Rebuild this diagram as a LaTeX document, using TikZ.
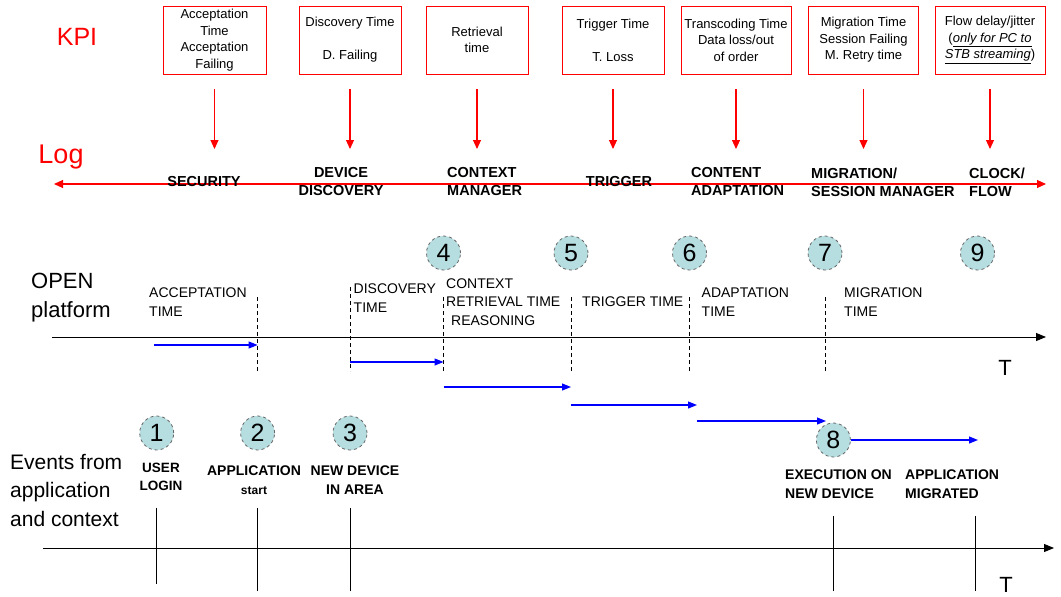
\documentclass[tikz,border=0pt]{standalone}
\usepackage{fontspec}
\setmainfont{Liberation Sans}
\usetikzlibrary{arrows.meta}
\definecolor{numfill}{RGB}{182,221,224}

\begin{document}
\begin{tikzpicture}[x=1pt,y=-1pt,
    kpi/.style={draw=red, line width=0.9pt, minimum height=68pt, inner sep=1pt, align=center, font=\fontsize{13}{16.5}\selectfont},
    bigtxt/.style={align=left, anchor=west, inner sep=0pt},
    logtxt/.style={font=\fontsize{14.5}{18}\selectfont\bfseries, align=left, anchor=west, inner sep=0pt},
    opentxt/.style={font=\fontsize{14}{18.5}\selectfont, align=left, anchor=west, inner sep=0pt},
    evtxt/.style={font=\fontsize{14}{18.5}\selectfont\bfseries, align=center, inner sep=0pt},
    num/.style={circle, draw=black!60, dashed, line width=0.8pt, fill=numfill, minimum size=34pt, inner sep=0pt, font=\fontsize{25}{25}\selectfont},
    kpiarrow/.style={red, line width=1.1pt, -{Triangle[length=9pt,width=8pt]}},
    bluearrow/.style={blue, line width=1.1pt, -{Triangle[length=9pt,width=7pt]}},
    axis/.style={black, line width=1pt, -{Triangle[length=10pt,width=8pt]}},
    tline/.style={black, dash pattern=on 4pt off 3pt, line width=0.8pt}]
  \useasboundingbox (0,0) rectangle (1061,597);

  % KPI and Log
  \node[red, font=\fontsize{25}{25}\selectfont] (kpi) at (77,37) {KPI};
  \node[red, font=\fontsize{27}{27}\selectfont] (log) at (61,157) {Log};

  \node[kpi, minimum width=103pt] (k1) at (214.5,40) {Acceptation\\Time\\Acceptation\\Failing};
  \node[kpi, minimum width=102pt] (k2) at (350,40) {Discovery Time\\\mbox{}\\D. Failing};
  \node[kpi, minimum width=102pt] (k3) at (477,40) {Retrieval\\time};
  \node[kpi, minimum width=102pt] (k4) at (613,40) {Trigger Time\\\mbox{}\\T. Loss};
  \node[kpi, minimum width=110pt] (k5) at (736,40) {Transcoding Time\\Data loss/out\\of order};
  \node[kpi, minimum width=110pt] (k6) at (863.5,40) {Migration Time\\Session Failing\\M. Retry time};
  \node[kpi, minimum width=110pt] (k7) at (990,40) {Flow delay/jitter\\(\underline{\textit{only for PC to}}\\\underline{\textit{STB streaming}})};

  \foreach \i in {1,...,7}{
    \coordinate (ka\i) at (k\i.south |- 0,149);
    \draw[kpiarrow, shorten <=15pt] (k\i.south) -- (ka\i);
  }

  \coordinate (logW) at (54,184);
  \coordinate (logE) at (1046,184);
  \draw[red, line width=1.1pt, {Triangle[length=9pt,width=8pt]}-{Triangle[length=9pt,width=8pt]}] (logW) -- (logE);

  \node[logtxt, anchor=center] (lg1) at (204,182) {SECURITY};
  \node[logtxt, anchor=center, align=center] (lg2) at (341,182) {DEVICE\\DISCOVERY};
  \node[logtxt] (lg3) at (447,182) {CONTEXT\\MANAGER};
  \node[logtxt, anchor=center] (lg4) at (619,182) {TRIGGER};
  \node[logtxt] (lg5) at (691,182) {CONTENT\\ADAPTATION};
  \node[logtxt] (lg6) at (811,182) {MIGRATION/\\SESSION MANAGER};
  \node[logtxt] (lg7) at (969,182) {CLOCK/\\FLOW};

  % OPEN platform
  \node[bigtxt, font=\fontsize{22}{29}\selectfont] (open) at (31,297.5) {OPEN\\platform};
  \coordinate (oW) at (52,337);
  \coordinate (oE) at (1046,337);
  \draw[axis] (oW) -- (oE);
  \node[font=\fontsize{22}{22}\selectfont] (to) at (1005,368) {T};

  \foreach \x/\a in {257.6/297,350/287,443.5/297,571/297,689.5/297,825/297}
    \draw[tline] (\x,\a) -- (\x,371);

  \foreach \n/\x in {4/443.5,5/571,6/689.5,7/825,9/977.5}
    \node[num] (n\n) at (\x,253) {\n};

  \node[opentxt] (o1) at (149,302) {ACCEPTATION\\TIME};
  \node[opentxt] (o2) at (353.5,298) {DISCOVERY\\TIME};
  \node[opentxt] (o3) at (446,302) {CONTEXT\\RETRIEVAL TIME\\\hspace{5pt}REASONING};
  \node[opentxt] (o4) at (582,302) {TRIGGER TIME};
  \node[opentxt] (o5) at (701.5,302) {ADAPTATION\\TIME};
  \node[opentxt] (o6) at (844,302) {MIGRATION\\TIME};

  \foreach \b/\xa/\xb/\y in {1/154/257.6/345,2/350/443.5/362,3/443.5/571/387,4/571/697/405,5/697/826/421}{
    \coordinate (bs\b) at (\xa,\y);
    \coordinate (be\b) at (\xb,\y);
    \draw[bluearrow] (bs\b) -- (be\b);
  }

  % events
  \node[bigtxt, font=\fontsize{21}{28.5}\selectfont] (ev) at (10,490) {Events from\\application\\and context};
  \coordinate (eW) at (43,548);
  \coordinate (eE) at (1054,548);
  \draw[axis] (eW) -- (eE);
  \node[font=\fontsize{22}{22}\selectfont] (te) at (1006,585) {T};

  \foreach \x/\a/\b in {156.7/508/584,257.6/508/591,350/508/591,833.4/516/591,975/516/591}
    \draw[line width=0.8pt] (\x,\a) -- (\x,\b);

  \foreach \n/\x in {1/156.7,2/257.6,3/350}
    \node[num] (n\n) at (\x,433) {\n};
  \node[num] (n8) at (833.4,440) {8};

  \coordinate (be6) at (978,440);
  \draw[bluearrow] (n8) -- (be6);

  \node[evtxt, font=\fontsize{13.5}{18.5}\selectfont\bfseries] (e1) at (161,477) {USER\\LOGIN};
  \node[evtxt] (e2) at (254,480) {APPLICATION\\{\fontsize{12}{12}\selectfont start}};
  \node[evtxt] (e3) at (355,480) {NEW DEVICE\\IN AREA};
  \node[evtxt, align=left, anchor=west] (e8) at (785,484) {EXECUTION ON\\NEW DEVICE};
  \node[evtxt, align=left, anchor=west] (e9) at (905,484) {APPLICATION\\MIGRATED};
\end{tikzpicture}
\end{document}
